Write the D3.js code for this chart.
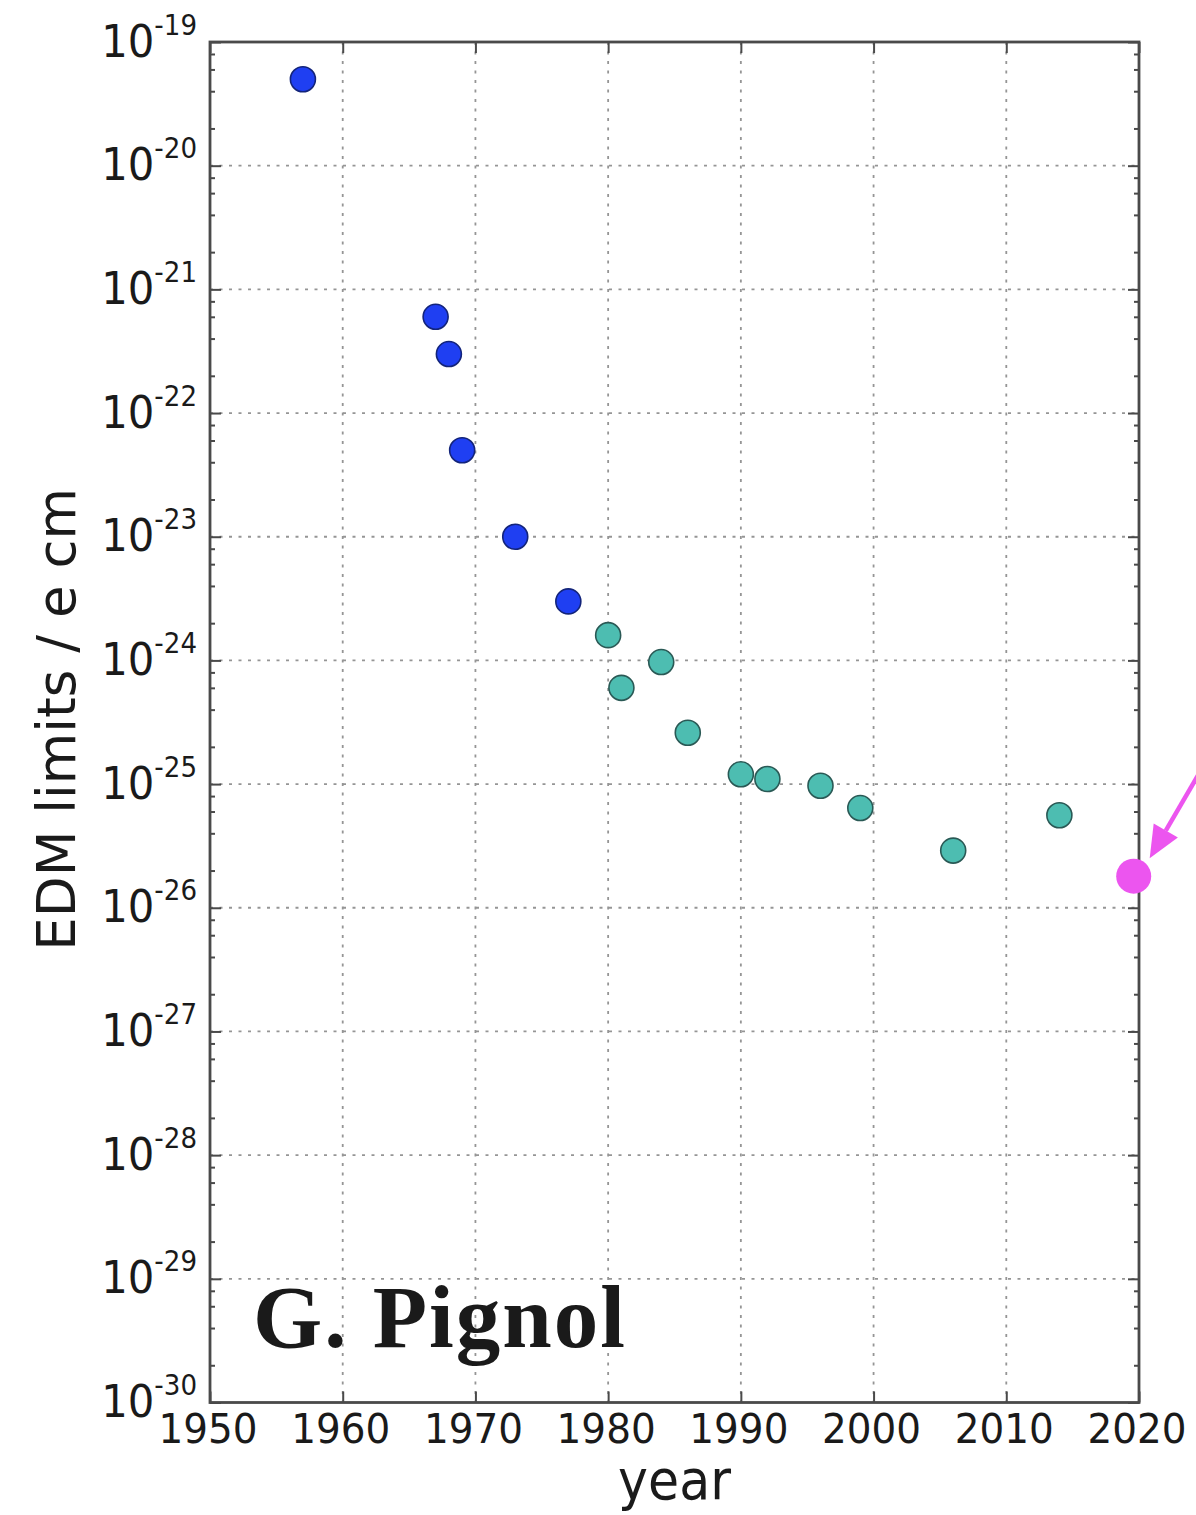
<!DOCTYPE html>
<html>
<head>
<meta charset="utf-8">
<script src="https://cdn.jsdelivr.net/npm/d3@7/dist/d3.min.js"></script>
<style>
  html, body { margin: 0; padding: 0; background: #fff; }
  svg { display: block; }
</style>
</head>
<body>
<script>
// Neutron EDM upper limits over time (e cm, log scale)
const yearsEarly  = [1957, 1967, 1968, 1969, 1973, 1977];
const limitsEarly = [5e-20, 6e-22, 3e-22, 5e-23, 1e-23, 3e-24];

const yearsLater  = [1980, 1981, 1984, 1986, 1990, 1992, 1996, 1999, 2006, 2014];
const limitsLater = [1.6e-24, 6e-25, 9.7e-25, 2.6e-25, 1.2e-25, 1.1e-25, 9.7e-26, 6.4e-26, 2.9e-26, 5.6e-26];

const yearsNext  = [2019.6];
const limitsNext = [1.8e-26];

const xTickYears   = [1950, 1960, 1970, 1980, 1990, 2000, 2010, 2020];
const yTickExps    = [-30, -29, -28, -27, -26, -25, -24, -23, -22, -21, -20, -19];
const minorSubs    = [2, 4, 6, 8];

const xLabel = "year";
const yLabel = "EDM limits / e cm";
const credit = "G. Pignol";

const W = 1196, H = 1515;
const plot = { left: 210, right: 1139, top: 42, bottom: 1402.5 };

const svg = d3.select("body").append("svg")
  .attr("width", W).attr("height", H)
  .attr("viewBox", `0 0 ${W} ${H}`);

const x = d3.scaleLinear().domain([1950, 2020]).range([plot.left, plot.right]);
const y = d3.scaleLog().domain([1e-30, 1e-19]).range([plot.bottom, plot.top]);

const majorY = yTickExps.map(e => Math.pow(10, e));
const minorY = [];
yTickExps.slice(0, -1).forEach(e => minorSubs.forEach(s => minorY.push(s * Math.pow(10, e))));

// dotted grid
const grid = svg.append("g").attr("stroke", "#959595").attr("stroke-width", 1.8)
  .attr("stroke-dasharray", "3,6.5").attr("fill", "none");
grid.selectAll("line.gx").data(xTickYears.slice(1, -1)).join("line").attr("class", "gx")
  .attr("x1", d => x(d)).attr("x2", d => x(d))
  .attr("y1", plot.top).attr("y2", plot.bottom);
grid.selectAll("line.gy").data(majorY.slice(1, -1)).join("line").attr("class", "gy")
  .attr("x1", plot.left).attr("x2", plot.right)
  .attr("y1", d => y(d)).attr("y2", d => y(d));

// data points
const pts = svg.append("g");
pts.selectAll("circle.early").data(yearsEarly.map((t, i) => [t, limitsEarly[i]])).join("circle")
  .attr("class", "early")
  .attr("cx", d => x(d[0])).attr("cy", d => y(d[1])).attr("r", 12.5)
  .attr("fill", "#1f3ff2").attr("stroke", "#13247a").attr("stroke-width", 1.6);
pts.selectAll("circle.later").data(yearsLater.map((t, i) => [t, limitsLater[i]])).join("circle")
  .attr("class", "later")
  .attr("cx", d => x(d[0])).attr("cy", d => y(d[1])).attr("r", 12.5)
  .attr("fill", "#4dbdb1").attr("stroke", "#2a5955").attr("stroke-width", 1.6);

// frame and inward ticks
const axisColor = "#4a4a4a";
function styleAxis(g) {
  g.select(".domain").remove();
  g.selectAll(".tick line").attr("stroke", axisColor).attr("stroke-width", 2);
  g.selectAll(".tick text").remove();
}
svg.append("g").attr("transform", `translate(0,${plot.bottom})`)
  .call(d3.axisBottom(x).tickValues(xTickYears).tickSize(-11)).call(styleAxis);
svg.append("g").attr("transform", `translate(0,${plot.top})`)
  .call(d3.axisTop(x).tickValues(xTickYears).tickSize(-11)).call(styleAxis);
svg.append("g").attr("transform", `translate(${plot.left},0)`)
  .call(d3.axisLeft(y).tickValues(majorY).tickSize(-11)).call(styleAxis);
svg.append("g").attr("transform", `translate(${plot.left},0)`)
  .call(d3.axisLeft(y).tickValues(minorY).tickSize(-5)).call(styleAxis);
svg.append("g").attr("transform", `translate(${plot.right},0)`)
  .call(d3.axisRight(y).tickValues(majorY).tickSize(-11)).call(styleAxis);
svg.append("g").attr("transform", `translate(${plot.right},0)`)
  .call(d3.axisRight(y).tickValues(minorY).tickSize(-5)).call(styleAxis);

svg.append("rect")
  .attr("x", plot.left).attr("y", plot.top)
  .attr("width", plot.right - plot.left).attr("height", plot.bottom - plot.top)
  .attr("fill", "none").attr("stroke", axisColor).attr("stroke-width", 2.8);

// tick labels
const font = "'DejaVu Sans', 'Bitstream Vera Sans', sans-serif";
const yl = svg.append("g").attr("fill", "#1a1a1a").attr("font-family", font);
yTickExps.forEach(e => {
  const g = yl.append("g").attr("transform", `translate(197,${y(Math.pow(10, e)) + 14.5}) scale(0.95,1)`);
  const t = g.append("text").attr("text-anchor", "end");
  t.append("tspan").attr("font-size", 44).text("10");
  t.append("tspan").attr("font-size", 27.5).attr("dy", -22).text(String(e));
});

const xl = svg.append("g").attr("fill", "#1a1a1a").attr("font-family", font);
xTickYears.forEach(t => {
  xl.append("g").attr("transform", `translate(${x(t) - 2},1443) scale(0.95,1)`)
    .append("text").attr("text-anchor", "middle").attr("font-size", 41).text(t);
});

// axis titles
svg.append("g").attr("transform", `translate(${(plot.left + plot.right) / 2},1499) scale(0.92,1)`)
  .append("text").attr("text-anchor", "middle").attr("font-family", font)
  .attr("font-size", 55).attr("fill", "#1a1a1a").text(xLabel);

svg.append("g").attr("transform", `translate(75,${(plot.top + plot.bottom) / 2 - 3}) rotate(-90)`)
  .append("text").attr("text-anchor", "middle").attr("font-family", font)
  .attr("font-size", 53).attr("fill", "#1a1a1a").text(yLabel);

// author credit inside the axes
svg.append("text")
  .attr("x", 253).attr("y", 1347)
  .attr("font-family", "'Liberation Serif', 'Times New Roman', serif")
  .attr("font-weight", "bold").attr("font-size", 89).attr("letter-spacing", 2)
  .attr("fill", "#1a1a1a").text(credit);

// projected limit, drawn over the frame, with a pointer arrow
const next = yearsNext.map((t, i) => [t, limitsNext[i]]);
svg.append("g").selectAll("circle").data(next).join("circle")
  .attr("cx", d => x(d[0])).attr("cy", d => y(d[1])).attr("r", 17.5)
  .attr("fill", "#ec55ef");

const magenta = "#ec55ef";
next.forEach(d => {
  const tip = [x(d[0]) + 16, y(d[1]) - 18];
  const dir = [0.503, -0.864];            // pointing back up-right
  const nrm = [-dir[1], dir[0]];
  const headLen = 32, headHalf = 14;
  const base = [tip[0] + dir[0] * headLen, tip[1] + dir[1] * headLen];
  const tail = [tip[0] + dir[0] * 220, tip[1] + dir[1] * 220];
  svg.append("line")
    .attr("x1", base[0]).attr("y1", base[1])
    .attr("x2", tail[0]).attr("y2", tail[1])
    .attr("stroke", magenta).attr("stroke-width", 4.5);
  svg.append("path")
    .attr("d", d3.line()([
      tip,
      [base[0] + nrm[0] * headHalf, base[1] + nrm[1] * headHalf],
      [base[0] - nrm[0] * headHalf, base[1] - nrm[1] * headHalf]
    ]) + "Z")
    .attr("fill", magenta);
});
</script>
</body>
</html>
